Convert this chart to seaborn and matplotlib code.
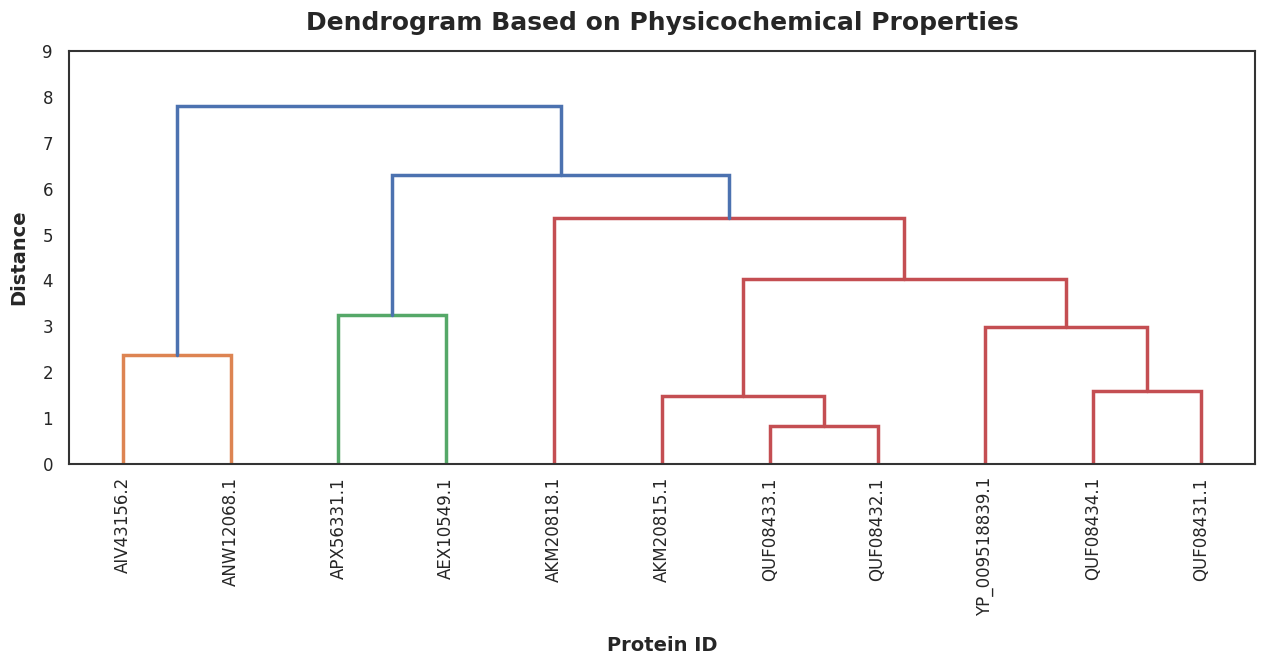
import matplotlib
matplotlib.use("Agg")
import matplotlib.pyplot as plt
import seaborn as sns

# leaves in dendrogram order
proteins = ["AIV43156.2", "ANW12068.1", "APX56331.1", "AEX10549.1", "AKM20818.1",
            "AKM20815.1", "QUF08433.1", "QUF08432.1", "YP_009518839.1",
            "QUF08434.1", "QUF08431.1"]

# merges (scipy style: new cluster id = n_leaves + row index)
merge_left = [6, 5, 9, 0, 8, 2, 12, 4, 16, 14]
merge_right = [7, 11, 10, 1, 13, 3, 15, 17, 18, 19]
merge_height = [0.82, 1.48, 1.60, 2.38, 2.98, 3.25, 4.03, 5.36, 6.30, 7.80]
merge_group = ["red", "red", "red", "orange", "red", "green", "red", "red", "above", "above"]

sns.set_style("white")
pal = sns.color_palette("deep")
group_colors = {"orange": pal[1], "green": pal[2], "red": pal[3], "above": pal[0]}

fig, ax = plt.subplots(figsize=(12.65, 6.66), dpi=100)

n = len(proteins)
xpos = {i: 10 * i + 5 for i in range(n)}
ypos = {i: 0.0 for i in range(n)}
for k, (a, b, h, g) in enumerate(zip(merge_left, merge_right, merge_height, merge_group)):
    cid = n + k
    xa, xb = xpos[a], xpos[b]
    ax.plot([xa, xa, xb, xb], [ypos[a], h, h, ypos[b]], color=group_colors[g], lw=2.5,
            solid_joinstyle="miter")
    xpos[cid] = (xa + xb) / 2
    ypos[cid] = h

ax.set_xlim(0, 10 * n)
ax.set_ylim(0, 9)
ax.set_xticks([10 * i + 5 for i in range(n)])
ax.set_xticklabels(proteins, rotation=90, fontsize=12)
ax.tick_params(axis="x", pad=6)
ax.tick_params(axis="y", labelsize=12, pad=8)
for s in ax.spines.values():
    s.set_color("#333333")
    s.set_linewidth(1.5)

ax.set_title("Dendrogram Based on Physicochemical Properties", fontsize=18,
             fontweight="bold", pad=15)
ax.set_xlabel("Protein ID", fontsize=14, fontweight="bold", labelpad=14)
ax.set_ylabel("Distance", fontsize=14, fontweight="bold", labelpad=10)

plt.subplots_adjust(left=0.0545, right=0.992, top=0.9234, bottom=0.3033)
plt.savefig("out.png", dpi=100)
